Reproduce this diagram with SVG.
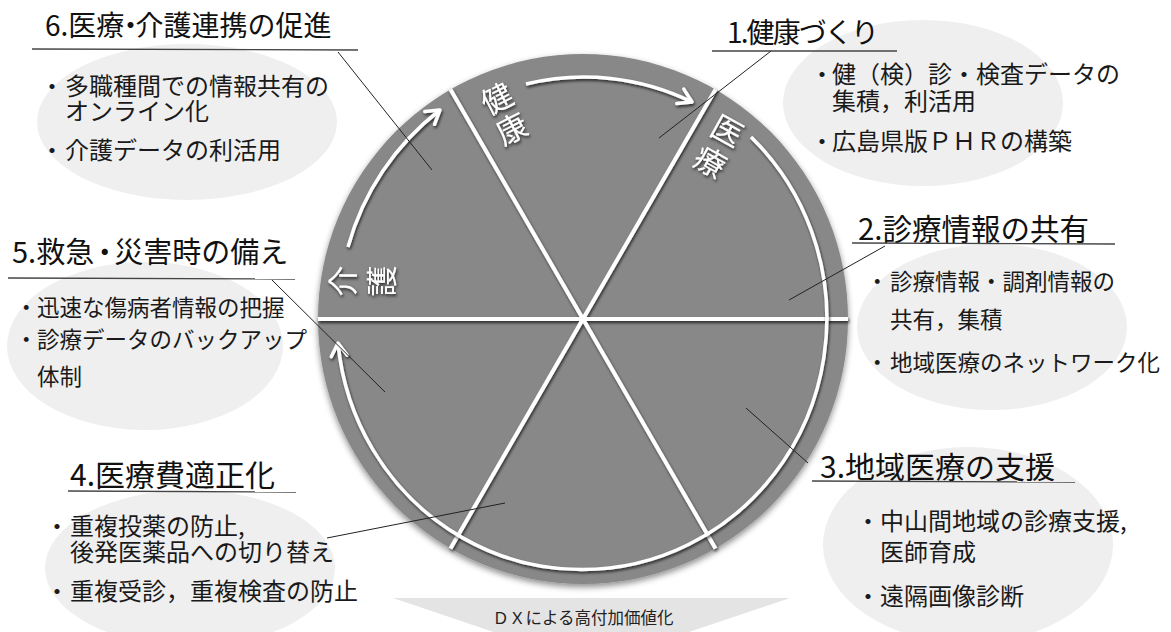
<svg xmlns="http://www.w3.org/2000/svg" width="1171" height="632" viewBox="0 0 1171 632">
<defs>
<style>
.t{font-family:"Noto Sans CJK JP","Noto Sans",sans-serif;fill:#111}
.title{font-size:28px}
.b{font-size:24px;fill:#1a1a1a}
.b2{font-size:22.5px;fill:#1a1a1a}
.ul{stroke:#444;stroke-width:1.3}
.ld{stroke:#222;stroke-width:1;fill:none}
.el{fill:#efefef}
.spoke{stroke:#fff;stroke-width:4}
.arc{fill:none;stroke:#fff;stroke-width:3.5}
.lab{font-family:"Noto Sans CJK JP",sans-serif;font-size:31px;fill:#fff;text-anchor:middle;dominant-baseline:central}
</style>
<filter id="sh" x="-20%" y="-20%" width="140%" height="140%"><feDropShadow dx="1" dy="2" stdDeviation="1.5" flood-color="#000" flood-opacity="0.7"/></filter>
<filter id="csh" x="-10%" y="-10%" width="120%" height="120%"><feDropShadow dx="0" dy="3" stdDeviation="3" flood-color="#000" flood-opacity="0.45"/></filter>
<marker id="ah" markerUnits="userSpaceOnUse" markerWidth="30" markerHeight="30" viewBox="-20 -15 30 30" refX="0" refY="0" orient="auto"><path d="M-13,-8 L0,0 L-13,8" fill="none" stroke="#fff" stroke-width="3.5" stroke-linecap="round" stroke-linejoin="round"/></marker>
</defs>
<rect width="1171" height="632" fill="#fff"/>

<g id="banner">
<polygon points="393,598 790,598 591,665" fill="#e4e4e4"/>
<text class="t" x="583" y="624" text-anchor="middle" style="font-size:16.5px;fill:#222">ＤＸによる高付加価値化</text>
</g>

<g id="box6">
<ellipse class="el" cx="187" cy="122" rx="150" ry="78"/>
<text class="t title" x="45" y="36" dx="0 0 0 0 -8 -9">6.医療・介護連携の促進</text>
<line class="ul" x1="32" y1="49" x2="358" y2="50"/>
<text class="t b" x="40" y="95">・</text>
<text class="t b" x="65" y="95">多職種間での情報共有の</text>
<text class="t b" x="65" y="120">オンライン化</text>
<text class="t b" x="40" y="159">・</text>
<text class="t b" x="65" y="159">介護データの利活用</text>
</g>

<g id="box1">
<ellipse class="el" cx="923" cy="103" rx="140" ry="83"/>
<text class="t title" x="727" y="43" textLength="152">1.健康づくり</text>
<line class="ul" x1="712" y1="51" x2="897" y2="51"/>
<text class="t b" x="810" y="83">・</text>
<text class="t b" x="832" y="83">健（検）診・検査データの</text>
<text class="t b" x="832" y="110">集積，利活用</text>
<text class="t b" x="810" y="150">・</text>
<text class="t b" x="832" y="150">広島県版ＰＨＲの構築</text>
</g>

<g id="box2">
<ellipse class="el" cx="992" cy="327" rx="135" ry="83"/>
<text class="t" x="858" y="240" style="font-size:29.5px">2.診療情報の共有</text>
<line class="ul" x1="852" y1="243" x2="1115" y2="244"/>
<text class="t b2" x="866" y="290">・</text>
<text class="t b2" x="890" y="290">診療情報・調剤情報の</text>
<text class="t b2" x="890" y="328">共有，集積</text>
<text class="t b2" x="866" y="371">・</text>
<text class="t b2" x="890" y="371">地域医療のネットワーク化</text>
</g>

<g id="box3">
<ellipse class="el" cx="968" cy="545" rx="145" ry="98"/>
<text class="t" x="820" y="478" style="font-size:30px">3.地域医療の支援</text>
<line class="ul" x1="812" y1="481" x2="1075" y2="482"/>
<text class="t b" x="856" y="530">・</text>
<text class="t b" x="880" y="530">中山間地域の診療支援,</text>
<text class="t b" x="880" y="561">医師育成</text>
<text class="t b" x="856" y="605">・</text>
<text class="t b" x="880" y="605">遠隔画像診断</text>
</g>

<g id="box4">
<ellipse class="el" cx="190" cy="568" rx="145" ry="78"/>
<text class="t" x="70" y="486" style="font-size:30px">4.医療費適正化</text>
<line class="ul" x1="68" y1="491" x2="296" y2="492"/>
<text class="t b" x="45" y="535">・</text>
<text class="t b" x="70" y="535">重複投薬の防止,</text>
<text class="t b" x="70" y="561">後発医薬品への切り替え</text>
<text class="t b" x="45" y="600">・</text>
<text class="t b" x="70" y="600">重複受診，重複検査の防止</text>
</g>

<g id="box5">
<ellipse class="el" cx="145" cy="346" rx="138" ry="84"/>
<text class="t" x="12" y="263" dx="0 0 0 0 -4 -5" style="font-size:29px">5.救急・災害時の備え</text>
<line class="ul" x1="8" y1="278" x2="295" y2="279"/>
<text class="t b2" x="15" y="316">・</text>
<text class="t b2" x="37" y="316">迅速な傷病者情報の把握</text>
<text class="t b2" x="15" y="348">・</text>
<text class="t b2" x="37" y="348">診療データのバックアップ</text>
<text class="t b2" x="37" y="385">体制</text>
</g>

<g id="wheel">
<circle cx="583" cy="319" r="265" fill="#888888" filter="url(#csh)"/>
<g filter="url(#sh)">
<line class="spoke" x1="318" y1="319" x2="848" y2="319"/>
<line class="spoke" x1="450.5" y1="89.5" x2="715.5" y2="548.5"/>
<line class="spoke" x1="715.5" y1="89.5" x2="450.5" y2="548.5"/>
</g>
<g filter="url(#sh)">
<path class="arc" d="M526,84 A245,245 0 0 1 692,102" marker-end="url(#ah)"/>
<path class="arc" d="M751,137 A245,251 0 1 1 338,343" marker-end="url(#ah)"/>
<path class="arc" d="M348,247 A260,260 0 0 1 440,110" marker-end="url(#ah)"/>
</g>
<g filter="url(#sh)">
<text class="lab" transform="translate(496,97) rotate(-27)">健</text>
<text class="lab" transform="translate(511,127) rotate(-27)">康</text>
<text class="lab" transform="translate(728,129) rotate(29)">医</text>
<text class="lab" transform="translate(711,160) rotate(29)">療</text>
<text class="lab" transform="translate(340,281) rotate(-90)">介</text>
<text class="lab" transform="translate(379,281) rotate(-90)">護</text>
</g>
</g>

<g id="connectors">
<line class="ld" x1="338" y1="52" x2="432" y2="170"/>
<line class="ld" x1="771" y1="51" x2="659" y2="138"/>
<line class="ld" x1="885" y1="246" x2="789" y2="300"/>
<line class="ld" x1="808" y1="463" x2="746" y2="408"/>
<line class="ld" x1="327" y1="538" x2="505" y2="503"/>
<line class="ld" x1="272" y1="280" x2="385" y2="392"/>
</g>
</svg>
